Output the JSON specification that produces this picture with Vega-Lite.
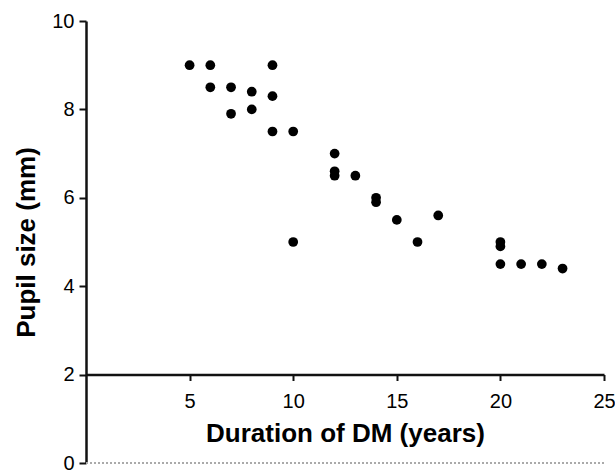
{
  "$schema": "https://vega.github.io/schema/vega-lite/v6.json",
  "width": 518,
  "height": 442,
  "autosize": "none",
  "padding": {"left": 86, "top": 21, "right": 11, "bottom": 8},
  "config": {
    "view": {"stroke": null},
    "font": "Liberation Sans",
    "axis": {
      "grid": false,
      "domainColor": "#111",
      "domainWidth": 2.5,
      "tickColor": "#111",
      "tickWidth": 2,
      "labelColor": "#000",
      "labelFont": "Liberation Sans",
      "labelFontSize": 20,
      "labelFlush": false,
      "labelOverlap": false,
      "titleFont": "Liberation Sans",
      "titleFontSize": 26,
      "titleFontWeight": "bold",
      "titleColor": "#000"
    }
  },
  "data": {
    "values": [
      {"duration": 5, "pupil": 9.0},
      {"duration": 6, "pupil": 9.0},
      {"duration": 6, "pupil": 8.5},
      {"duration": 7, "pupil": 8.5},
      {"duration": 7, "pupil": 7.9},
      {"duration": 8, "pupil": 8.4},
      {"duration": 8, "pupil": 8.0},
      {"duration": 9, "pupil": 9.0},
      {"duration": 9, "pupil": 8.3},
      {"duration": 9, "pupil": 7.5},
      {"duration": 10, "pupil": 7.5},
      {"duration": 10, "pupil": 5.0},
      {"duration": 12, "pupil": 7.0},
      {"duration": 12, "pupil": 6.6},
      {"duration": 12, "pupil": 6.5},
      {"duration": 13, "pupil": 6.5},
      {"duration": 14, "pupil": 6.0},
      {"duration": 14, "pupil": 5.9},
      {"duration": 15, "pupil": 5.5},
      {"duration": 16, "pupil": 5.0},
      {"duration": 17, "pupil": 5.6},
      {"duration": 20, "pupil": 5.0},
      {"duration": 20, "pupil": 4.9},
      {"duration": 20, "pupil": 4.5},
      {"duration": 21, "pupil": 4.5},
      {"duration": 22, "pupil": 4.5},
      {"duration": 23, "pupil": 4.4}
    ]
  },
  "layer": [
    {
      "mark": {"type": "rule", "color": "#aaa", "strokeWidth": 1.5, "strokeDash": [2, 2]},
      "encoding": {"y": {"datum": 0}}
    },
    {
      "mark": {"type": "circle", "color": "#000", "opacity": 1, "size": 95},
      "encoding": {
        "x": {
          "field": "duration",
          "type": "quantitative",
          "title": "Duration of DM (years)",
          "scale": {"domain": [0, 25], "nice": false},
          "axis": {
            "values": [5, 10, 15, 20, 25],
            "offset": -88.5,
            "tickSize": 6,
            "labelPadding": 11,
            "titlePadding": 9
          }
        },
        "y": {
          "field": "pupil",
          "type": "quantitative",
          "title": "Pupil size (mm)",
          "scale": {"domain": [0, 10], "nice": false},
          "axis": {
            "values": [0, 2, 4, 6, 8, 10],
            "tickSize": 7,
            "labelPadding": 5,
            "titlePadding": 12
          }
        }
      }
    }
  ]
}
